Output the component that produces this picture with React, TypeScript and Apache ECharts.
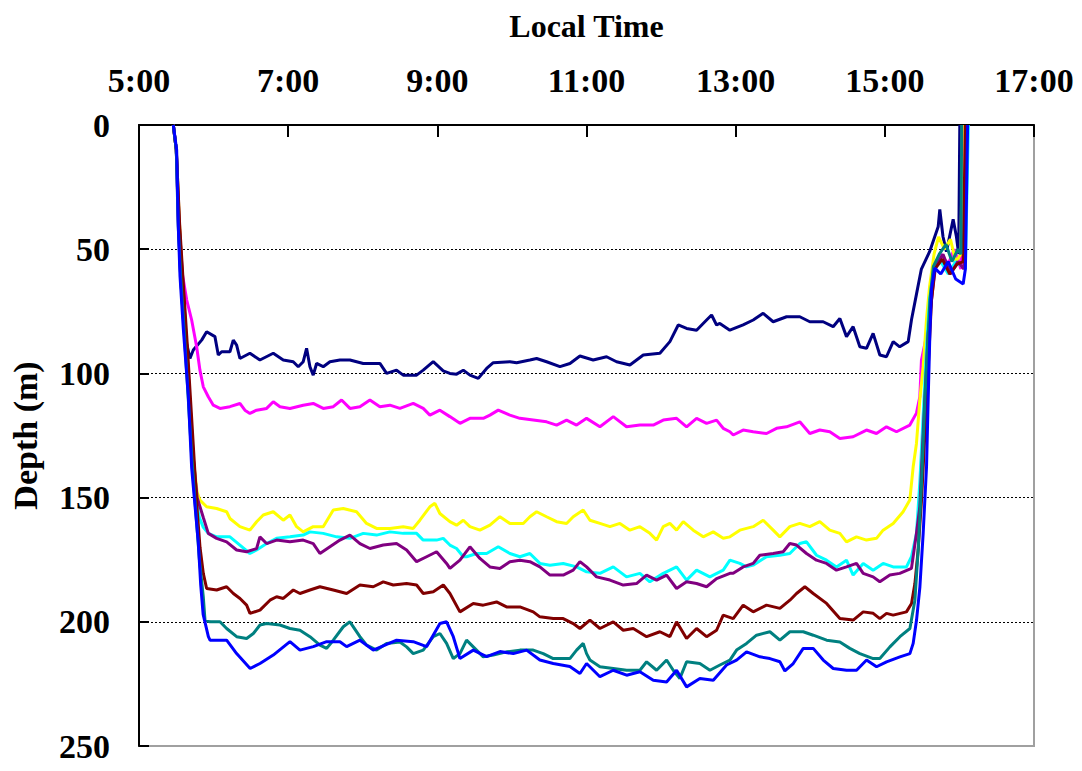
import React, { useEffect, useRef } from "react";
import * as echarts from "echarts";

// Depth profiles: [local time in hours, depth in metres]
const navy: [number, number][] = [
  [5.46,0],[5.50,10],[5.53,40],[5.56,62],[5.60,80],[5.64,88],
  [5.683,94],[5.728,90.6],[5.84,86.6],[5.907,83.2],[6.018,85.2],[6.063,92.6],[6.108,91.3],[6.219,91.3],[6.264,86.6],[6.309,88.6],[6.353,94],[6.487,91.9],[6.621,94.6],[6.80,91.9],[6.934,94.6],[7.068,95.3],[7.135,97.3],[7.202,95.3],[7.247,89.9],[7.292,97.3],[7.336,100.7],[7.381,96],[7.47,97.3],[7.56,95.3],[7.694,94.6],[7.828,94.6],[8.007,96],[8.23,96],[8.32,100],[8.453,98.7],[8.543,100.7],[8.722,100.7],[8.811,98.7],[8.945,95.3],[9.079,99],[9.168,100],
  [9.258,100.3],[9.348,98.7],[9.437,100.7],[9.549,102],[9.661,98],[9.75,95.7],[9.973,95.3],[10.063,95.7],[10.241,94.6],[10.331,94],[10.465,95.3],[10.644,97.3],[10.778,96],[10.912,93],[11.09,94.6],[11.269,93.3],[11.403,95.3],[11.582,96.6],[11.761,92.6],[11.984,91.9],[12.118,87.2],[12.23,80.5],[12.342,81.9],[12.476,82.6],[12.61,78.5],[12.677,76.5],[12.744,80.5],
  [12.788,79.9],[12.922,82.6],[13.1,80.5],[13.235,78.5],[13.369,75.8],[13.503,79.2],[13.682,77.2],[13.86,77.2],[13.994,79.2],[14.173,79.2],[14.307,81.2],[14.397,77.9],[14.486,85.2],[14.575,81.2],[14.665,89.3],[14.754,89.9],[14.843,83.9],[14.933,92.6],[15.022,93.3],[15.112,87.2],[15.2,89.3],[15.313,87.2],[15.358,78.3],[15.425,68],[15.49,58],[15.6,51],[15.715,41],[15.737,34],[15.78,45],[15.826,51],[15.916,38],[15.96,45],[15.99,52],[16.005,0]
];
const magenta: [number, number][] = [
  [5.46,0],[5.5,10],[5.53,42],[5.57,58],[5.64,70.5],[5.706,78.5],[5.773,89.3],[5.817,98.7],[5.862,105.4],[5.929,109.4],[5.996,112.8],[6.085,114.1],[6.219,113.4],[6.353,112.1],[6.42,114.8],[6.487,116.1],[6.577,114.8],[6.711,114.1],[6.80,111.4],[6.89,113.4],[7.024,114.1],[7.202,112.8],[7.336,112.1],[7.47,114.1],[7.605,113.4],[7.716,110.7],[7.828,114.1],[7.962,113.4],[8.096,110.7],[8.23,113.4],[8.364,112.8],[8.498,114.1],[8.677,112.1],[8.811,114.1],[8.9,116.8],[9.034,114.8],[9.168,117.4],
  [9.303,120.1],[9.437,118.1],[9.616,118.1],[9.705,116.8],[9.817,114.8],[9.973,116.8],[10.107,118.1],[10.286,118.8],[10.465,119.5],[10.599,120.8],[10.733,118.8],[10.867,120.8],[11.001,118.1],[11.18,121.5],[11.359,117.4],[11.537,121.5],[11.716,120.8],[11.895,120.8],[12.029,118.8],[12.208,118.1],[12.342,121.5],[12.476,118.1],[12.61,120.1],[12.744,118.8],[12.833,122.1],[12.923,123.5],
  [12.967,124.8],[13.1,122.8],[13.235,123.5],[13.414,124.2],[13.548,122.1],[13.682,121.5],[13.86,119.5],[13.994,124.2],[14.128,122.8],[14.262,123.5],[14.397,126.2],[14.575,125.5],[14.754,122.8],[14.888,124.2],[15.022,121.5],[15.156,123.5],[15.335,120.8],[15.424,116],[15.469,109.4],[15.491,94.6],[15.558,85],[15.603,70.5],[15.66,58],[15.75,52],[15.85,56],[15.93,50],[16.02,58],[16.04,0]
];
const yellow: [number, number][] = [
  [5.46,0],[5.50,10],[5.54,38],[5.58,62],[5.63,85],[5.68,110],[5.73,135],[5.78,148],[5.817,151],[5.907,153.7],[6.041,154.4],[6.175,155.7],[6.219,158.4],[6.353,161.7],[6.487,163.1],[6.577,159.7],[6.666,157],[6.80,155.7],[6.934,159.1],[7.024,157],[7.113,161.7],[7.202,163.8],[7.336,161.7],[7.47,161.7],[7.605,155],[7.739,154.4],[7.917,155.7],[8.051,160.4],[8.185,162.4],[8.364,162.4],[8.543,161.7],[8.677,162.4],[8.766,159.1],[8.9,153.7],[8.967,152.3],[9.034,156.4],[9.168,159.7],
  [9.258,161.1],[9.348,159.1],[9.437,161.7],[9.571,163.1],[9.705,161.1],[9.839,157.7],[9.973,160.4],[10.152,160.4],[10.241,157.7],[10.331,155.7],[10.465,157.7],[10.599,159.7],[10.733,160.4],[10.822,157.7],[10.956,155],[11.046,159.1],[11.18,160.4],[11.314,161.7],[11.448,160.4],[11.582,163.1],[11.716,161.7],[11.85,164.4],[11.94,167.1],[12.029,161.7],[12.118,160.4],[12.208,163.1],[12.297,159.7],[12.431,163.1],[12.565,165.8],[12.699,163.8],[12.833,166.4],[12.923,165.8],
  [13.056,163.1],[13.235,161.7],[13.369,159.1],[13.503,163.1],[13.592,165.8],[13.726,161.7],[13.86,160.4],[13.994,161.7],[14.128,159.7],[14.262,163.1],[14.397,164.4],[14.486,167.8],[14.62,165.8],[14.754,167.1],[14.888,166.4],[14.977,163.1],[15.112,160.4],[15.245,155.7],[15.335,151],[15.38,137.6],[15.424,128.2],[15.469,110.7],[15.514,97.3],[15.558,78.5],[15.6,65],[15.66,52],[15.72,45],[15.8,50],[15.88,46],[15.95,55],[16.02,52],[16.04,0]
];
const cyan: [number, number][] = [
  [5.46,0],[5.50,10],[5.535,40],[5.575,62],[5.62,85],[5.67,112],[5.72,138],[5.77,152],[5.81,158],[5.862,162],[5.929,164.4],[6.041,165.8],[6.219,165.8],[6.353,169.1],[6.487,172.5],[6.577,171.1],[6.711,168.5],[6.845,166.4],[7.024,165.8],[7.202,165.1],[7.292,163.8],[7.47,164.4],[7.649,165.8],[7.828,166.4],[8.007,164.4],[8.185,165.1],[8.364,163.8],[8.543,164.4],[8.722,164.4],[8.811,167.1],[8.99,167.1],[9.079,166.4],[9.168,169.1],
  [9.258,170.5],[9.348,173.8],[9.392,173.8],[9.527,172.5],[9.661,172.5],[9.817,169.8],[9.973,172.5],[10.107,173.8],[10.241,172.5],[10.375,176.5],[10.51,177.2],[10.688,176.5],[10.867,177.9],[11.001,179.9],[11.18,180.5],[11.359,177.9],[11.537,181.9],[11.716,180.5],[11.85,183.9],[12.029,180.5],[12.208,177.9],[12.342,183.2],[12.476,179.2],[12.654,181.9],[12.833,179.2],[12.923,175.2],
  [13.056,176.5],[13.145,177.9],[13.235,177.2],[13.414,173.8],[13.592,173.2],[13.726,172.5],[13.86,168.5],[13.95,167.8],[14.084,173.2],[14.218,175.2],[14.352,177.9],[14.486,175.2],[14.575,181.2],[14.71,176.5],[14.843,179.2],[14.977,176.5],[15.112,177.9],[15.29,177.9],[15.357,173.8],[15.424,164.4],[15.469,144],[15.514,117],[15.558,90],[15.6,70],[15.66,58],[15.75,55],[15.85,60],[15.95,55],[16.08,58],[16.12,0]
];
const purple: [number, number][] = [
  [5.46,0],[5.50,10],[5.54,40],[5.585,62],[5.63,85],[5.68,110],[5.73,135],[5.78,150],[5.862,158],[5.929,164.4],[6.041,166.4],[6.175,167.8],[6.309,171.1],[6.443,171.8],[6.577,170.5],[6.621,165.8],[6.711,168.5],[6.845,167.1],[7.024,167.8],[7.202,167.1],[7.336,168.5],[7.426,172.5],[7.56,169.8],[7.694,167.1],[7.828,165.1],[7.962,168.5],[8.096,170.5],[8.275,169.1],[8.453,168.5],[8.588,171.1],[8.722,175.8],[8.856,173.8],[8.99,171.8],[9.124,176.5],
  [9.169,178.5],[9.303,175.2],[9.437,169.8],[9.571,174.5],[9.705,177.9],[9.839,178.5],[9.973,175.8],[10.107,175.2],[10.241,175.8],[10.375,177.9],[10.51,181.2],[10.688,181.2],[10.822,179.2],[10.912,175.8],[11.001,177.9],[11.135,181.9],[11.314,183.2],[11.493,185.2],[11.671,184.6],[11.805,181.2],[11.94,183.2],[12.074,181.2],[12.208,186.6],[12.342,183.9],[12.476,184.6],[12.61,185.9],[12.744,182.6],[12.923,180.5],
  [12.967,180.5],[13.1,177.9],[13.235,176.5],[13.324,173.2],[13.503,172.5],[13.637,171.8],[13.726,168.5],[13.816,169.1],[13.95,172.5],[14.084,175.2],[14.218,176.5],[14.352,179.2],[14.486,177.9],[14.62,176.5],[14.71,180.5],[14.843,181.9],[14.933,183.9],[15.067,181.2],[15.2,180.5],[15.357,178.5],[15.424,164.4],[15.469,153.7],[15.514,124.2],[15.58,84],[15.625,70.5],[15.68,57],[15.78,52],[15.88,60],[15.98,55],[16.06,58],[16.09,0]
];
const maroon: [number, number][] = [
  [5.46,0],[5.50,10],[5.545,40],[5.59,62],[5.64,85],[5.69,110],[5.74,135],[5.78,155],[5.818,170],[5.862,180.5],[5.907,186.6],[6.041,187.2],[6.175,185.9],[6.265,188.6],[6.354,190.6],[6.443,193.3],[6.488,196.6],[6.622,195.3],[6.756,191.3],[6.845,189.9],[6.935,190.6],[7.069,187.2],[7.158,188.6],[7.292,187.2],[7.426,185.9],[7.605,187.2],[7.784,188.6],[7.962,185.2],[8.141,185.9],[8.275,183.9],[8.409,185.2],[8.588,184.6],[8.722,185.2],[8.811,188.6],[8.946,187.9],[9.08,185.2],[9.169,188.6],[9.303,196],[9.482,192.6],[9.616,193.3],[9.794,192],[9.928,194],[10.107,194],[10.286,196],[10.375,198],[10.554,198.7],[10.688,198.7],[10.822,200.7],[10.912,202.7],[11.046,199.3],
  [11.18,202.7],[11.359,200],[11.493,203.4],[11.627,202.7],[11.806,206],[11.984,204],[12.118,206],[12.208,200],[12.342,206.7],[12.476,202.7],[12.61,206],[12.744,203.4],[12.833,197.3],[12.967,198.7],[13.101,193.3],[13.235,196],[13.414,193.3],[13.593,194.6],[13.727,191.3],[13.816,188.6],[13.928,185.9],[14.04,188.6],[14.219,192.6],[14.397,198.7],[14.576,199.3],[14.71,196],[14.844,196.6],[14.933,198.7],[15.023,196.6],[15.112,197.3],[15.29,196],[15.358,192.6],[15.403,184.6],[15.447,171.1],[15.492,151],[15.537,124.2],[15.582,97.3],[15.626,70.5],[15.67,58],[15.77,54],[15.87,60],[15.97,56],[16.05,55],[16.08,0]
];
const teal: [number, number][] = [
  [5.46,0],[5.50,10],[5.525,40],[5.56,62],[5.61,85],[5.66,110],[5.71,135],[5.76,155],[5.81,175],[5.862,190],[5.885,199.3],[5.952,200],[6.086,200],[6.175,202.7],[6.309,206],[6.443,206.7],[6.533,204.7],[6.622,201.3],[6.711,200.7],[6.89,201.3],[7.024,202.7],[7.158,203.4],[7.292,206],[7.426,209.4],[7.516,210.7],[7.605,207.4],[7.739,202],[7.828,200],[7.962,206],[8.052,209.4],[8.186,211.4],[8.32,208.7],[8.498,208.1],[8.588,210.1],[8.677,212.8],[8.811,211.4],[8.946,206],[9.035,204.7],[9.124,208.7],[9.214,214.8],[9.303,212.8],[9.392,207.4],[9.482,210.1],[9.616,214.1],[9.75,213.4],[9.928,212.1],[10.107,211.4],[10.286,211.4],[10.42,212.8],[10.554,214.8],[10.777,214.8],[10.867,211.4],[10.956,208.7],[11.001,212.8],[11.046,215.4],[11.18,218.1],
  [11.359,218.8],[11.538,219.5],[11.716,219.5],[11.806,216.1],[11.94,219.5],[12.074,215.4],[12.163,219.5],[12.252,222.8],[12.342,216.1],[12.52,216.8],[12.655,219.5],[12.789,217.4],[12.923,215.4],[13.012,211.4],[13.146,208.7],[13.28,205.4],[13.459,204],[13.593,207.4],[13.727,204],[13.906,204],[14.04,205.4],[14.219,207.4],[14.397,208.1],[14.531,210.7],[14.665,212.8],[14.844,214.8],[14.933,214.8],[15.068,210.1],[15.202,206],[15.336,202.7],[15.403,191.3],[15.447,171.1],[15.492,144],[15.537,110.7],[15.604,70.5],[15.65,57],[15.73,52],[15.82,48],[15.9,55],[15.98,50],[16.02,52],[16.03,0]
];
const blue: [number, number][] = [
  [5.46,0],[5.505,10],[5.527,41],[5.55,61],[5.594,82],[5.661,109],[5.706,138],[5.75,153],[5.795,168],[5.827,185],[5.86,197],[5.93,206],[5.952,207.4],[6.175,207.4],[6.309,212.8],[6.49,218.8],[6.622,216.8],[6.80,213.4],[7.024,208],[7.158,211.4],[7.337,210],[7.516,208],[7.694,208],[7.784,210],[7.962,207.4],[8.141,211.4],[8.454,207.4],[8.677,208],[8.856,210],[9.035,200.7],[9.124,200],[9.214,206],[9.303,214.8],[9.482,211.4],[9.66,214],[9.839,212],[10.018,212.8],[10.197,211.4],[10.375,215.4],[10.554,216.8],[10.777,218],[10.912,220.8],[11.001,216.8],[11.18,222.1],[11.359,219.5],[11.538,221.5],[11.716,220.1],[11.895,223.5],[12.074,224.2],[12.208,219.5],[12.342,226.2],[12.52,222.8],[12.7,223.5],[12.878,217.4],[13.012,215.4],[13.146,212.1],[13.325,214.1],[13.459,214.8],[13.593,216.1],[13.66,219.8],[13.772,216.8],[13.906,210.7],[14.04,210.7],[14.174,215.4],[14.308,218.8],[14.487,219.5],[14.621,219.5],[14.755,215.4],[14.889,218.1],[15.023,216.1],[15.202,214.1],[15.336,212.8],[15.38,208.7],[15.425,199.3],[15.47,186],[15.514,164.4],[15.559,137.6],[15.581,110.7],[15.604,83.9],[15.626,66],[15.67,57.6],[15.75,60],[15.85,55],[15.95,62],[16.05,64],[16.08,58],[16.11,0]
];

const profiles = [navy, magenta, yellow, cyan, purple, maroon, teal, blue];
const profileColors = ["#000080", "#FF00FF", "#FFFF00", "#00FFFF", "#800080", "#800000", "#008080", "#0000FF"];

const FONT = "'Liberation Serif', 'Times New Roman', serif";

export default function App() {
  const ref = useRef<HTMLDivElement>(null);
  useEffect(() => {
    if (!ref.current) return;
    const chart = echarts.init(ref.current, undefined, { renderer: "svg" });
    chart.setOption({
      animation: false,
      backgroundColor: "#ffffff",
      grid: {
        left: 139,
        right: 48,
        top: 125,
        bottom: 25,
        show: true,
        borderColor: "#a0a0a0",
        borderWidth: 2,
        backgroundColor: "transparent",
      },
      xAxis: {
        type: "value",
        position: "top",
        min: 5,
        max: 17,
        interval: 2,
        name: "Local Time",
        nameLocation: "middle",
        nameGap: 83,
        nameTextStyle: { fontFamily: FONT, fontWeight: "bold", fontSize: 32, color: "#000" },
        axisLine: { show: true, lineStyle: { color: "#000", width: 2 } },
        axisTick: { show: true, inside: true, length: 12, lineStyle: { color: "#000", width: 2 } },
        axisLabel: {
          margin: 28,
          fontFamily: FONT,
          fontWeight: "bold",
          fontSize: 34,
          color: "#000",
          formatter: (v: number) => `${v}:00`,
        },
        splitLine: { show: false },
      },
      yAxis: {
        type: "value",
        inverse: true,
        min: 0,
        max: 250,
        interval: 50,
        name: "Depth (m)",
        nameLocation: "middle",
        nameGap: 97,
        nameTextStyle: { fontFamily: FONT, fontWeight: "bold", fontSize: 34, color: "#000" },
        axisLine: { show: true, lineStyle: { color: "#000", width: 2 } },
        axisTick: { show: true, inside: true, length: 10, lineStyle: { color: "#000", width: 2 } },
        axisLabel: {
          margin: 29,
          fontFamily: FONT,
          fontWeight: "bold",
          fontSize: 34,
          color: "#000",
          padding: [7, 0, 0, 0],
        },
        splitLine: {
          show: true,
          showMinLine: false,
          showMaxLine: false,
          lineStyle: { color: "#000", width: 1, type: [2, 2] },
        },
      },
      series: profiles.map((data, i) => ({
        type: "line",
        data,
        showSymbol: false,
        symbol: "none",
        lineStyle: { color: profileColors[i], width: 3 },
        itemStyle: { color: profileColors[i] },
      })),
    });
    return () => chart.dispose();
  }, []);
  return (
    <div
      ref={ref}
      style={{ position: "fixed", left: 0, top: 0, width: 1082, height: 771, background: "#fff" }}
    />
  );
}
